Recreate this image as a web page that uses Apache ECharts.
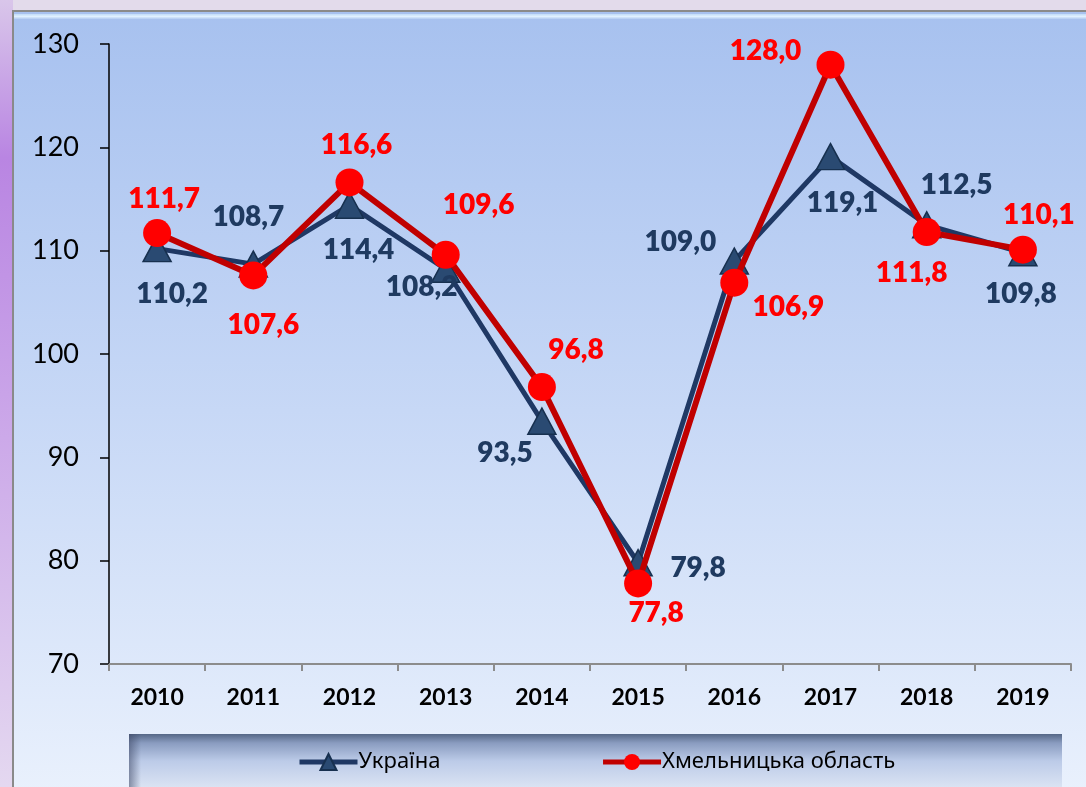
<!DOCTYPE html>
<html><head><meta charset="utf-8">
<script src="https://cdn.jsdelivr.net/npm/echarts@6/dist/echarts.min.js"></script>
<style>html,body{margin:0;padding:0;background:#e3dbeb}#c{width:1086px;height:787px}</style>
</head><body><div id="c"></div>
<script>
var years = ['2010','2011','2012','2013','2014','2015','2016','2017','2018','2019'];
var ukraine = [110.2,108.7,114.4,108.2,93.5,79.8,109.0,119.1,112.5,109.8];
var khmelnytska = [111.7,107.6,116.6,109.6,96.8,77.8,106.9,128.0,111.8,110.1];
var seriesNames = ['Україна','Хмельницька область'];

// label offsets (style only)
var ukrOff = [[15,45],[-5,-47],[9,45],[-24,18],[-37,32],[60,5],[-54,-19],[12,46],[30,-40],[-2,41]];
var khmOff = [[7,-34],[10,50],[7,-37],[33,-50],[34,-37],[18,30],[54,24],[-65,-14],[-15,41],[16,-35]];

function fmt(v){ return v.toFixed(1).replace('.', ','); }
function build(vals, offs, color){
  return vals.map(function(v,i){
    return {value:v, label:{show:true, position:'inside', offset:offs[i], color:color,
      fontFamily:'Lato', fontWeight:800, fontSize:28, formatter:function(p){return fmt(p.value);}}};
  });
}

var chart = echarts.init(document.getElementById('c'), null, {renderer:'canvas'});
chart.setOption({
  animation:false,
  backgroundColor:'#e3dbeb',
  graphic:[
    {type:'rect', z:-10, shape:{x:0,y:0,width:13,height:787},
     style:{fill:new echarts.graphic.LinearGradient(0,0,0,1,[{offset:0,color:'#d9c6ea'},{offset:0.2,color:'#b985e2'},{offset:0.5,color:'#c9a3e8'},{offset:1,color:'#e4d8f0'}])}},
    {type:'rect', z:-9, shape:{x:13,y:11,width:1090,height:800},
     style:{fill:new echarts.graphic.LinearGradient(0,0,0,1,[{offset:0,color:'#a7c1ef'},{offset:0.5,color:'#c7d8f6'},{offset:1,color:'#ebf2fd'}]), stroke:'#8a8a8a', lineWidth:2}},
    {type:'rect', z:-8, shape:{x:14,y:14,width:1080,height:5},
     style:{fill:new echarts.graphic.LinearGradient(0,0,0,1,[{offset:0,color:'#c2dcf8'},{offset:0.5,color:'#dff0ff'},{offset:1,color:'#b3cbf2'}])}},
    {type:'rect', z:-7, shape:{x:129,y:734,width:933,height:60},
     style:{fill:new echarts.graphic.LinearGradient(0,0,0,1,[{offset:0,color:'#556786'},{offset:0.15,color:'#8a9cc0'},{offset:0.45,color:'#bccbe8'},{offset:1,color:'#e2e9f6'}])}},
    {type:'rect', z:-6, shape:{x:129,y:734,width:12,height:60},
     style:{fill:new echarts.graphic.LinearGradient(0,0,1,0,[{offset:0,color:'rgba(60,70,100,0.55)'},{offset:1,color:'rgba(60,70,100,0)'}])}}
  ],
  grid:{left:109, right:15, top:44, bottom:123, containLabel:false},
  legend:{
    data:seriesNames, left:292, top:746, itemWidth:58, itemHeight:20, itemGap:160,
    lineStyle:{width:5},
    textStyle:{fontFamily:'Noto Sans', fontSize:22, color:'#000', padding:[0,0,0,-4]}
  },
  xAxis:{
    type:'category', data:years, boundaryGap:true,
    axisLine:{show:true, lineStyle:{color:'#8c8c8c', width:2}},
    axisTick:{show:true, length:7, lineStyle:{color:'#8c8c8c', width:2}},
    axisLabel:{color:'#000', fontFamily:'Lato', fontWeight:'bold', fontSize:23, margin:22},
    splitLine:{show:false}
  },
  yAxis:{
    type:'value', min:70, max:130, interval:10,
    axisLine:{show:true, lineStyle:{color:'#000', width:1.5}},
    axisTick:{show:true, length:9, lineStyle:{color:'#000', width:1.5}},
    axisLabel:{color:'#000', fontFamily:'Lato', fontSize:27, margin:30},
    splitLine:{show:false}
  },
  series:[
    {name:seriesNames[0], type:'line', data:build(ukraine, ukrOff, '#1f3a60'),
     symbol:'triangle', symbolSize:[28,26],
     lineStyle:{color:'#1f3864', width:5},
     itemStyle:{color:'#2a4a72', borderColor:'#17304f', borderWidth:1.5}, z:3},
    {name:seriesNames[1], type:'line', data:build(khmelnytska, khmOff, '#ff0000'),
     symbol:'circle', symbolSize:28,
     lineStyle:{color:'#c00000', width:6},
     itemStyle:{color:'#ff0000', borderWidth:0}, z:4}
  ]
});
</script></body></html>
